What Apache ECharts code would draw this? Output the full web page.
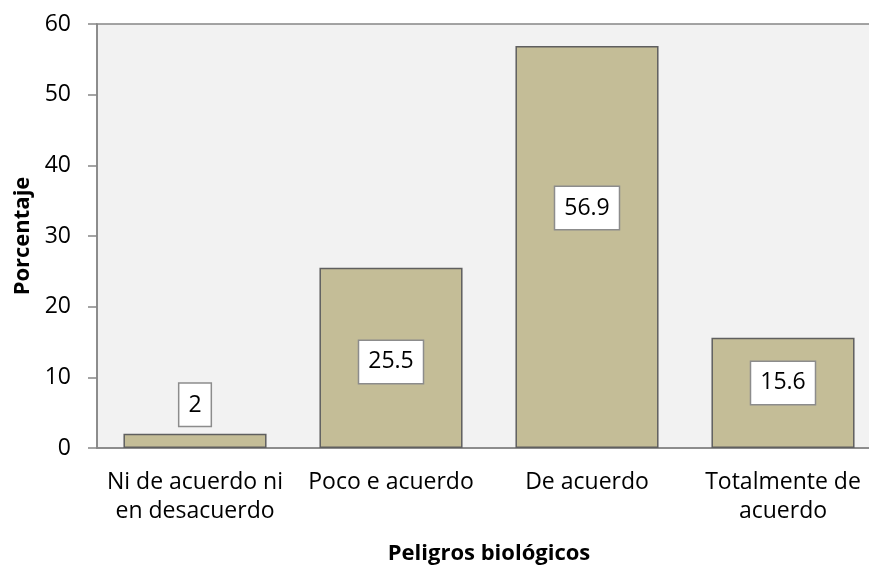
<!DOCTYPE html>
<html>
<head>
<meta charset="utf-8">
<script src="https://cdn.jsdelivr.net/npm/echarts@6/dist/echarts.min.js"></script>
<style>
html,body{margin:0;padding:0;background:#fff;}
#chart{width:869px;height:568px;}
</style>
</head>
<body>
<div id="chart"></div>
<script>
var categories = ["Ni de acuerdo ni\nen desacuerdo", "Poco e acuerdo", "De acuerdo", "Totalmente de\nacuerdo"];
var values = [2, 25.5, 56.9, 15.6];
var yTicks = [0, 10, 20, 30, 40, 50, 60];
var xTitle = "Peligros biológicos";
var yTitle = "Porcentaje";

// label placement tweaks (style only)
var labelPos = ["top", "inside", "inside", "inside"];
var labelOffsetY = [0, 4, -39, -10];

var FONT = "Open Sans";
var chart = echarts.init(document.getElementById('chart'));
var seriesData = values.map(function (v, i) {
  return {
    value: v,
    label: { position: labelPos[i], offset: [0, labelOffsetY[i]], distance: 8 }
  };
});
chart.setOption({
  animation: false,
  grid: {
    left: 97, top: 24, width: 784, height: 424,
    outerBoundsMode: 'none',
    containLabel: false,
    show: true, backgroundColor: '#f2f2f2', borderColor: '#868686', borderWidth: 1.5
  },
  xAxis: {
    type: 'category',
    data: categories,
    name: xTitle,
    nameLocation: 'middle',
    nameGap: 95,
    nameTextStyle: { fontFamily: FONT, fontSize: 22, fontWeight: 'bold', color: '#000' },
    axisLine: { lineStyle: { color: '#868686', width: 1.5 } },
    axisTick: { show: false },
    axisLabel: { fontFamily: FONT, fontSize: 23, color: '#000', margin: 20, lineHeight: 29, interval: 0 }
  },
  yAxis: {
    type: 'value',
    min: yTicks[0],
    max: yTicks[yTicks.length - 1],
    interval: yTicks[1] - yTicks[0],
    name: yTitle,
    nameLocation: 'middle',
    nameGap: 63,
    nameTextStyle: { fontFamily: FONT, fontSize: 22, fontWeight: 'bold', color: '#000' },
    axisLine: { show: true, lineStyle: { color: '#868686', width: 1.5 } },
    axisTick: { show: true, length: 9, lineStyle: { color: '#868686', width: 1.5 } },
    splitLine: { show: false },
    axisLabel: { fontFamily: FONT, fontSize: 23, color: '#000', margin: 26 }
  },
  series: [{
    type: 'bar',
    data: seriesData,
    barWidth: '73%',
    itemStyle: { color: '#c4bd97', borderColor: '#5f5f5f', borderWidth: 1.5 },
    label: {
      show: true,
      fontFamily: FONT, fontSize: 23, color: '#000',
      backgroundColor: '#fff',
      borderColor: '#8c8c8c', borderWidth: 1.5,
      padding: [10, 9, 9, 9]
    }
  }]
});
</script>
</body>
</html>
